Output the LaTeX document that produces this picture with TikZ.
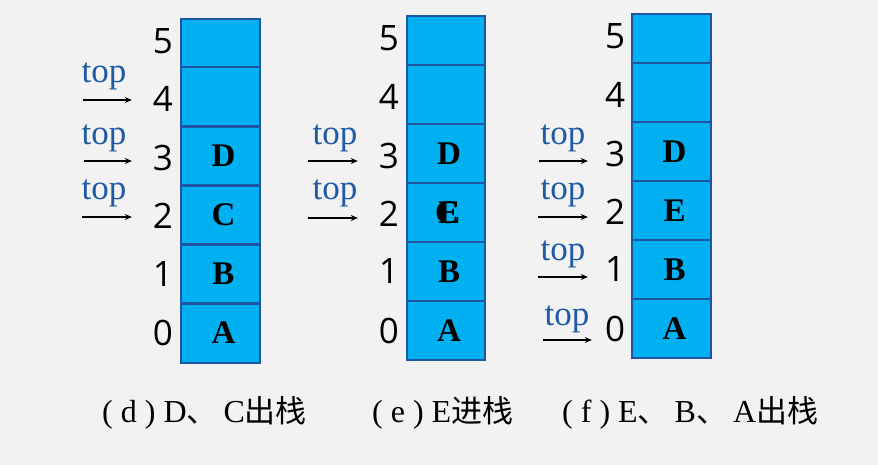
\documentclass[tikz,border=0pt]{standalone}
\usepackage{fontspec}
\setmainfont{Liberation Serif}
\newfontfamily\digitfont{Open Sans}
\newfontfamily\cjkfont{Noto Sans CJK SC}
\usetikzlibrary{arrows.meta}
\definecolor{bgc}{HTML}{F2F2F2}
\definecolor{cellfill}{HTML}{00B0F0}
\definecolor{celledge}{HTML}{1F56A3}
\definecolor{topblue}{HTML}{1F5AA6}
\newcommand\cellltr[1]{\hspace*{6pt}#1}
\newcommand\cjkc[1]{{\cjkfont\fontsize{31}{31}\selectfont #1}}
\newcommand\dunhao{\cjkc{、}\hspace{6pt}}
\tikzset{
  cellbox/.style={fill=cellfill, minimum width=78pt, inner sep=0pt,
    font=\fontsize{33}{33}\selectfont\bfseries},
  cellfive/.style={cellbox, minimum height=48pt},
  cellrow/.style={cellbox, minimum height=59pt},
  cellline/.style={draw=celledge, line width=2.2pt},
  idx/.style={inner sep=0pt, font=\digitfont\fontsize{35}{35}\selectfont},
  toplbl/.style={inner sep=0pt, text=topblue, font=\fontsize{35}{35}\selectfont},
  ptr/.style={line width=1.7pt, -{Stealth[length=7pt,width=6pt]}},
  captxt/.style={inner sep=0pt, anchor=west, font=\fontsize{32}{32}\selectfont}
}
\begin{document}
\begin{tikzpicture}[x=1pt,y=-1pt]
\useasboundingbox[fill=bgc] (0,0) rectangle (878,465);

% ---------- stack (d) ----------
\begin{scope}[shift={(220.5,19)}]
  \node[cellfive] (a5) at (0,24) {};
  \node[cellrow] (a4) at (0,78) {};
  \node[cellrow] (a3) at (0,137) {\cellltr{D}};
  \node[cellrow] (a2) at (0,196) {\cellltr{C}};
  \node[cellrow] (a1) at (0,255) {\cellltr{B}};
  \node[cellrow] (a0) at (0,314) {\cellltr{A}};
  \node[idx] (ai5) at (-57.5,22) {5};
  \node[idx] (ai4) at (-57.5,80) {4};
  \node[idx] (ai3) at (-57.5,139) {3};
  \node[idx] (ai2) at (-57.5,197) {2};
  \node[idx] (ai1) at (-57.5,255) {1};
  \node[idx] (ai0) at (-57.5,314) {0};
\end{scope}
\coordinate (ap4) at (83,100);
\coordinate (ap3) at (84,161);
\coordinate (ap2) at (82,217);
\draw[ptr] (ap4) -- (ap4 -| ai4.west) [shorten >=21pt];
\draw[ptr] (ap3) -- (ap3 -| ai3.west) [shorten >=21pt];
\draw[ptr] (ap2) -- (ap2 -| ai2.west) [shorten >=21pt];
\node[toplbl] (at4) at (104,76) {top};
\node[toplbl] (at3) at (104,138) {top};
\node[toplbl] (at2) at (104,193) {top};

% ---------- stack (e) ----------
\begin{scope}[shift={(446,16.5)}]
  \node[cellfive] (b5) at (0,24) {};
  \node[cellrow] (b4) at (0,78) {};
  \node[cellrow] (b3) at (0,137) {\cellltr{D}};
  \node[cellrow] (b2) at (0,196) {\cellltr{E}};
  \node[cellrow] (b1) at (0,255) {\cellltr{B}};
  \node[cellrow] (b0) at (0,314) {\cellltr{A}};
  \node[font=\fontsize{33}{33}\selectfont\bfseries, inner sep=0pt] (b2c) at ([xshift=1pt]b2.center) {C};
  \node[idx] (bi5) at (-57,22) {5};
  \node[idx] (bi4) at (-57,80) {4};
  \node[idx] (bi3) at (-57,139) {3};
  \node[idx] (bi2) at (-57,197) {2};
  \node[idx] (bi1) at (-57,255) {1};
  \node[idx] (bi0) at (-57,314) {0};
\end{scope}
\coordinate (bp3) at (308,161);
\coordinate (bp2) at (308,218);
\draw[ptr] (bp3) -- (bp3 -| bi3.west) [shorten >=21pt];
\draw[ptr] (bp2) -- (bp2 -| bi2.west) [shorten >=21pt];
\node[toplbl] (bt3) at (335,138) {top};
\node[toplbl] (bt2) at (335,193) {top};

% ---------- stack (f) ----------
\begin{scope}[shift={(671.5,14.5)}]
  \node[cellfive] (c5) at (0,24) {};
  \node[cellrow] (c4) at (0,78) {};
  \node[cellrow] (c3) at (0,137) {\cellltr{D}};
  \node[cellrow] (c2) at (0,196) {\cellltr{E}};
  \node[cellrow] (c1) at (0,255) {\cellltr{B}};
  \node[cellrow] (c0) at (0,314) {\cellltr{A}};
  \node[idx] (ci5) at (-56.5,22) {5};
  \node[idx] (ci4) at (-56.5,80) {4};
  \node[idx] (ci3) at (-56.5,139) {3};
  \node[idx] (ci2) at (-56.5,197) {2};
  \node[idx] (ci1) at (-56.5,255) {1};
  \node[idx] (ci0) at (-56.5,314) {0};
\end{scope}
\coordinate (cp3) at (539,161);
\coordinate (cp2) at (538,217);
\coordinate (cp1) at (538,277);
\coordinate (cp0) at (543,340);
\draw[ptr] (cp3) -- (cp3 -| ci3.west) [shorten >=17pt];
\draw[ptr] (cp2) -- (cp2 -| ci2.west) [shorten >=17pt];
\draw[ptr] (cp1) -- (cp1 -| ci1.west) [shorten >=17pt];
\draw[ptr] (cp0) -- (cp0 -| ci0.west) [shorten >=13pt];
\node[toplbl] (ct3) at (563,138) {top};
\node[toplbl] (ct2) at (563,193) {top};
\node[toplbl] (ct1) at (563,254) {top};
\node[toplbl] (ct0) at (567,319) {top};

% ---------- cell borders on top of fills ----------
\foreach \s in {a,b,c}{
  \foreach \r in {0,...,5}{
    \draw[cellline] (\s\r.south west) rectangle (\s\r.north east);
  }
}

% ---------- captions ----------
\node[captxt] (capd) at (102,413) {( d ) D\dunhao C\cjkc{出栈}};
\node[captxt] (cape) at (372,413) {( e ) E\cjkc{进栈}};
\node[captxt] (capf) at (562,413) {( f ) E\dunhao B\dunhao A\cjkc{出栈}};
\end{tikzpicture}
\end{document}
